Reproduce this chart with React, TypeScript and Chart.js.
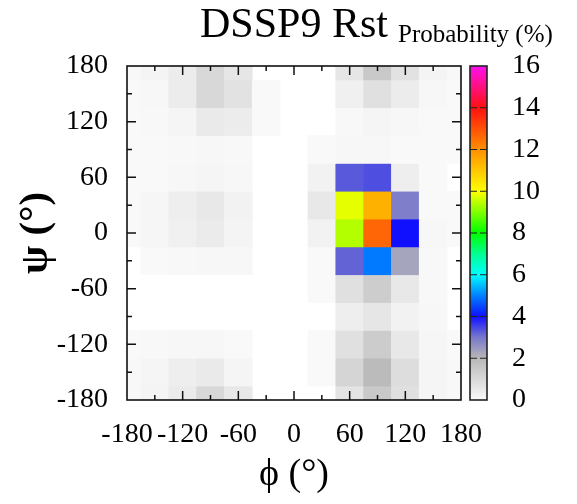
import React, { useEffect, useRef } from "react";
import { Chart, registerables } from "chart.js";

Chart.register(...registerables);

// phi (x) bin centres and psi (y) bin centres, degrees
const PHI = [-180, -150, -120, -90, -60, -30, 0, 30, 60, 90, 120, 150, 180];
const PSI = [180, 150, 120, 90, 60, 30, 0, -30, -60, -90, -120, -150, -180];

// probability (%) per bin, one row per psi value, columns follow PHI
const ROW_P180 = [0.06, 0.18, 0.42, 1.03, 0.6, 0, 0, 0, 0.6, 1.5, 0.73, 0.18, 0.06];
const ROW_P150 = [0.03, 0.09, 0.42, 1.03, 0.73, 0.03, 0, 0, 0.3, 0.79, 0.42, 0.09, 0.03];
const ROW_P120 = [0.02, 0.06, 0.15, 0.5, 0.42, 0.03, 0, 0, 0.06, 0.15, 0.08, 0.03, 0.02];
const ROW_P90 = [0.02, 0.03, 0.05, 0.09, 0.06, 0, 0, 0.03, 0.09, 0.09, 0.03, 0.02, 0.02];
const ROW_P60 = [0.02, 0.03, 0.08, 0.15, 0.09, 0, 0, 0.24, 3.3, 3.4, 0.36, 0.02, 0];
const ROW_P30 = [0.04, 0.12, 0.36, 0.55, 0.24, 0, 0, 0.55, 9.8, 11.4, 2.9, 0.04, 0.02];
const ROW_0 = [0.04, 0.12, 0.3, 0.45, 0.18, 0, 0, 0.24, 9.4, 12.65, 4.0, 0.08, 0.04];
const ROW_M30 = [0, 0.02, 0.05, 0.08, 0.08, 0, 0, 0.02, 3.2, 4.95, 2.3, 0.05, 0];
const ROW_M60 = [0, 0, 0, 0, 0, 0, 0, 0.02, 0.79, 1.36, 0.55, 0.05, 0];
const ROW_M90 = [0, 0, 0, 0, 0, 0, 0, 0, 0.36, 0.6, 0.24, 0.08, 0];
const ROW_M120 = [0.02, 0.05, 0.08, 0.08, 0.04, 0, 0, 0.04, 0.79, 1.39, 0.55, 0.12, 0.04];
const ROW_M150 = [0.06, 0.15, 0.36, 0.48, 0.15, 0, 0, 0.04, 1.12, 1.9, 0.88, 0.15, 0.06];
const ROW_M180 = [0.06, 0.18, 0.45, 1.03, 0.55, 0, 0, 0, 0.67, 1.5, 0.79, 0.15, 0.06];

const ROWS = [ROW_P180, ROW_P150, ROW_P120, ROW_P90, ROW_P60, ROW_P30, ROW_0, ROW_M30, ROW_M60, ROW_M90, ROW_M120, ROW_M150, ROW_M180];

const BIN = 30;
const AXIS_MIN = -180;
const AXIS_MAX = 180;
const AXIS_STEP = 60;
const CB_MIN = 0;
const CB_MAX = 16;
const CB_STEP = 2;

// palette stops: value -> colour
const PAL_VALUES = [0, 2, 3, 4, 5, 6, 7, 8, 10, 12, 14, 16];
const PAL_COLORS = ["#fafafa", "#b8b8b8", "#7878cc", "#1010ff", "#0080ff", "#00ffff", "#00ff90", "#00ff00", "#ffff00", "#ff9000", "#ff1010", "#ff10f0"];

const SERIF = "'Liberation Serif', 'DejaVu Serif', serif";

function hexToRgb(h: string) {
  const n = parseInt(h.slice(1), 16);
  return [(n >> 16) & 255, (n >> 8) & 255, n & 255];
}

function colorFor(v: number) {
  if (v <= PAL_VALUES[0]) return PAL_COLORS[0];
  for (let i = 1; i < PAL_VALUES.length; i++) {
    if (v <= PAL_VALUES[i]) {
      const t = (v - PAL_VALUES[i - 1]) / (PAL_VALUES[i] - PAL_VALUES[i - 1]);
      const a = hexToRgb(PAL_COLORS[i - 1]);
      const b = hexToRgb(PAL_COLORS[i]);
      const c = a.map((x, k) => Math.round(x + (b[k] - x) * t));
      return `rgb(${c[0]},${c[1]},${c[2]})`;
    }
  }
  return PAL_COLORS[PAL_COLORS.length - 1];
}

const decorPlugin = {
  id: "decor",
  afterDraw(chart: any) {
    const ctx = chart.ctx;
    const { left, right, top, bottom } = chart.chartArea;
    const xs = chart.scales.x;
    const ys = chart.scales.y;
    const cb = chart.scales.cb;
    ctx.save();

    // inward ticks on all four sides
    ctx.strokeStyle = "#111";
    ctx.lineWidth = 1.5;
    for (let v = AXIS_MIN + BIN; v < AXIS_MAX; v += BIN) {
      const len = v % AXIS_STEP === 0 ? 9 : 5;
      const px = xs.getPixelForValue(v);
      const py = ys.getPixelForValue(v);
      ctx.beginPath();
      ctx.moveTo(px, bottom); ctx.lineTo(px, bottom - len);
      ctx.moveTo(px, top); ctx.lineTo(px, top + len);
      ctx.moveTo(left, py); ctx.lineTo(left + len, py);
      ctx.moveTo(right, py); ctx.lineTo(right - len, py);
      ctx.stroke();
    }
    // frame
    ctx.lineWidth = 1.6;
    ctx.strokeRect(left, top, right - left, bottom - top);

    // colour bar
    const cbx0 = right + 9;
    const cbx1 = right + 26;
    const y0 = cb.getPixelForValue(CB_MIN);
    const y1 = cb.getPixelForValue(CB_MAX);
    const grad = ctx.createLinearGradient(0, y0, 0, y1);
    PAL_VALUES.forEach((v, i) => grad.addColorStop((v - CB_MIN) / (CB_MAX - CB_MIN), PAL_COLORS[i]));
    ctx.fillStyle = grad;
    ctx.fillRect(cbx0, y1, cbx1 - cbx0, y0 - y1);
    ctx.strokeStyle = "#222";
    ctx.lineWidth = 1.6;
    ctx.strokeRect(cbx0, y1, cbx1 - cbx0, y0 - y1);
    ctx.lineWidth = 1.2;
    for (let v = CB_MIN + CB_STEP; v < CB_MAX; v += CB_STEP) {
      const py = cb.getPixelForValue(v);
      ctx.beginPath();
      ctx.moveTo(cbx0, py); ctx.lineTo(cbx0 + 7, py);
      ctx.moveTo(cbx1, py); ctx.lineTo(cbx1 - 7, py);
      ctx.stroke();
    }

    // texts
    const cx = (left + right) / 2;
    ctx.fillStyle = "#000";
    ctx.textBaseline = "alphabetic";
    ctx.textAlign = "center";
    ctx.font = `42px ${SERIF}`;
    ctx.fillText("DSSP9 Rst", cx, top - 29);
    ctx.textAlign = "left";
    ctx.font = `25px ${SERIF}`;
    ctx.fillText("Probability (%)", right - 63, top - 24);

    ctx.textAlign = "center";
    ctx.font = `38px ${SERIF}`;
    ctx.fillText("\u03d5 (\u00b0)", cx, bottom + 85);

    ctx.save();
    ctx.translate(left - 91, (top + bottom) / 2);
    ctx.rotate(-Math.PI / 2);
    ctx.textBaseline = "middle";
    ctx.font = `bold 41px ${SERIF}`;
    ctx.fillText("\u03c8 (\u00b0)", 0, 0);
    ctx.restore();

    ctx.restore();
  },
};

export default function App() {
  const ref = useRef<HTMLCanvasElement | null>(null);
  useEffect(() => {
    if (!ref.current) return;
    const tickFont = { family: SERIF, size: 28 };
    const chart = new Chart(ref.current, {
      type: "bar",
      data: {
        datasets: PSI.map((psi, i) => ({
          data: PHI.map((phi) => ({ x: phi, y: [psi - BIN / 2, psi + BIN / 2] })),
          backgroundColor: ROWS[i].map((v) => (v > 0 ? colorFor(v) : "rgba(0,0,0,0)")),
          borderWidth: 0,
          grouped: false,
          categoryPercentage: 1,
          barPercentage: 1,
        })) as any,
      },
      options: {
        animation: false,
        responsive: false,
        layout: { padding: { top: 58, left: 0, right: 0, bottom: 0 } },
        plugins: { legend: { display: false }, tooltip: { enabled: false }, title: { display: false } },
        scales: {
          x: {
            type: "linear",
            offset: false,
            min: AXIS_MIN,
            max: AXIS_MAX,
            ticks: { stepSize: AXIS_STEP, font: tickFont, color: "#000", padding: 18, autoSkip: false, maxRotation: 0 },
            grid: { display: false, drawTicks: false, offset: false },
            border: { display: false },
            afterFit: (s: any) => { s.height = 96; s.paddingLeft = 0; s.paddingRight = 0; },
          },
          y: {
            type: "linear",
            position: "left",
            min: AXIS_MIN,
            max: AXIS_MAX,
            ticks: { stepSize: AXIS_STEP, font: tickFont, color: "#000", padding: 19 },
            grid: { display: false, drawTicks: false },
            border: { display: false },
            afterFit: (s: any) => { s.width = 119; s.paddingTop = 10; s.paddingBottom = 10; },
          },
          cb: {
            type: "linear",
            position: "right",
            min: CB_MIN,
            max: CB_MAX,
            ticks: { stepSize: CB_STEP, font: tickFont, color: "#000", padding: 51 },
            grid: { display: false, drawTicks: false },
            border: { display: false },
            afterFit: (s: any) => { s.width = 108; s.paddingTop = 10; s.paddingBottom = 10; },
          },
        } as any,
      },
      plugins: [decorPlugin],
    });
    return () => chart.destroy();
  }, []);
  return (
    <div style={{ width: 561, height: 488 }}>
      <canvas ref={ref} width={561} height={488} style={{ display: "block" }} />
    </div>
  );
}
